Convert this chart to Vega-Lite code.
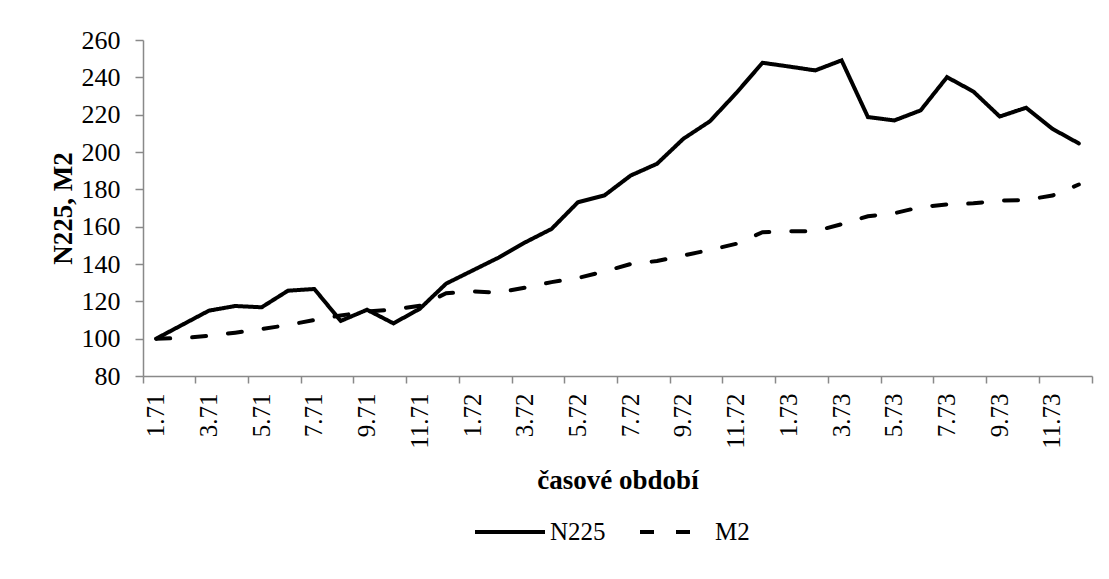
{
  "$schema": "https://vega.github.io/schema/vega-lite/v6.json",
  "width": 949,
  "height": 336,
  "autosize": {"type": "none"},
  "padding": {"left": 143, "top": 40, "right": 17, "bottom": 203},
  "background": "white",
  "config": {
    "view": {"stroke": null},
    "font": "Liberation Serif",
    "axis": {"grid": false, "domainColor": "#898989", "tickColor": "#898989", "labelColor": "#000000", "titleColor": "#000000", "labelFont": "Liberation Serif", "titleFont": "Liberation Serif", "domainWidth": 1.5, "tickWidth": 1.5}
  },
  "data": {"values": [
    {"m": "1.71", "s": "N225", "v": 100},
    {"m": "2.71", "s": "N225", "v": 107.5},
    {"m": "3.71", "s": "N225", "v": 115},
    {"m": "4.71", "s": "N225", "v": 117.5},
    {"m": "5.71", "s": "N225", "v": 116.8},
    {"m": "6.71", "s": "N225", "v": 125.7},
    {"m": "7.71", "s": "N225", "v": 126.6},
    {"m": "8.71", "s": "N225", "v": 109.5},
    {"m": "9.71", "s": "N225", "v": 115.5},
    {"m": "10.71", "s": "N225", "v": 108.2},
    {"m": "11.71", "s": "N225", "v": 116},
    {"m": "12.71", "s": "N225", "v": 129.5},
    {"m": "1.72", "s": "N225", "v": 136.5},
    {"m": "2.72", "s": "N225", "v": 143.5},
    {"m": "3.72", "s": "N225", "v": 151.6},
    {"m": "4.72", "s": "N225", "v": 158.8},
    {"m": "5.72", "s": "N225", "v": 173.1},
    {"m": "6.72", "s": "N225", "v": 176.7},
    {"m": "7.72", "s": "N225", "v": 187.4},
    {"m": "8.72", "s": "N225", "v": 193.7},
    {"m": "9.72", "s": "N225", "v": 207.1},
    {"m": "10.72", "s": "N225", "v": 216.4},
    {"m": "11.72", "s": "N225", "v": 231.5},
    {"m": "12.72", "s": "N225", "v": 247.8},
    {"m": "1.73", "s": "N225", "v": 245.8},
    {"m": "2.73", "s": "N225", "v": 243.7},
    {"m": "3.73", "s": "N225", "v": 249.1},
    {"m": "4.73", "s": "N225", "v": 218.7},
    {"m": "5.73", "s": "N225", "v": 216.9},
    {"m": "6.73", "s": "N225", "v": 222.3},
    {"m": "7.73", "s": "N225", "v": 240.1},
    {"m": "8.73", "s": "N225", "v": 232.4},
    {"m": "9.73", "s": "N225", "v": 219},
    {"m": "10.73", "s": "N225", "v": 223.7},
    {"m": "11.73", "s": "N225", "v": 212.4},
    {"m": "12.73", "s": "N225", "v": 204.6},
    {"m": "1.71", "s": "M2", "v": 100},
    {"m": "2.71", "s": "M2", "v": 100.3},
    {"m": "3.71", "s": "M2", "v": 101.5},
    {"m": "4.71", "s": "M2", "v": 103.2},
    {"m": "5.71", "s": "M2", "v": 105.2},
    {"m": "6.71", "s": "M2", "v": 107.3},
    {"m": "7.71", "s": "M2", "v": 110},
    {"m": "8.71", "s": "M2", "v": 112.4},
    {"m": "9.71", "s": "M2", "v": 114.5},
    {"m": "10.71", "s": "M2", "v": 115.6},
    {"m": "11.71", "s": "M2", "v": 117.6},
    {"m": "12.71", "s": "M2", "v": 124.3},
    {"m": "1.72", "s": "M2", "v": 125.3},
    {"m": "2.72", "s": "M2", "v": 124.7},
    {"m": "3.72", "s": "M2", "v": 127.4},
    {"m": "4.72", "s": "M2", "v": 130.3},
    {"m": "5.72", "s": "M2", "v": 132.5},
    {"m": "6.72", "s": "M2", "v": 136},
    {"m": "7.72", "s": "M2", "v": 140},
    {"m": "8.72", "s": "M2", "v": 141.6},
    {"m": "9.72", "s": "M2", "v": 144.6},
    {"m": "10.72", "s": "M2", "v": 147.5},
    {"m": "11.72", "s": "M2", "v": 150.8},
    {"m": "12.72", "s": "M2", "v": 157},
    {"m": "1.73", "s": "M2", "v": 157.5},
    {"m": "2.73", "s": "M2", "v": 157.6},
    {"m": "3.73", "s": "M2", "v": 161.3},
    {"m": "4.73", "s": "M2", "v": 165.6},
    {"m": "5.73", "s": "M2", "v": 167.2},
    {"m": "6.73", "s": "M2", "v": 170.5},
    {"m": "7.73", "s": "M2", "v": 171.9},
    {"m": "8.73", "s": "M2", "v": 172.5},
    {"m": "9.73", "s": "M2", "v": 174},
    {"m": "10.73", "s": "M2", "v": 174.3},
    {"m": "11.73", "s": "M2", "v": 176.7},
    {"m": "12.73", "s": "M2", "v": 182.6}
  ]},
  "encoding": {
    "y": {
      "field": "v", "type": "quantitative",
      "scale": {"domain": [80, 260], "nice": false, "zero": false},
      "axis": {
        "title": "N225, M2", "titleFontSize": 27, "titleFontWeight": "bold",
        "titleX": -80, "titleY": 168, "titleAngle": 270, "titleAlign": "center", "titleBaseline": "middle",
        "values": [80,100,120,140,160,180,200,220,240,260],
        "labelFontSize": 26, "labelPadding": 15, "tickSize": 8
      }
    }
  },
  "layer": [
    {
      "mark": {"type": "line", "strokeWidth": 4, "strokeCap": "round", "strokeJoin": "miter"},
      "encoding": {
        "x": {
          "field": "m", "type": "ordinal", "sort": null, "bandPosition": 0.5,
          "scale": {"type": "band", "paddingInner": 0, "paddingOuter": 0},
          "axis": {
            "orient": "bottom",
            "title": "časové období", "titleFontSize": 27, "titleFontWeight": "bold",
            "titleY": 112, "titleBaseline": "alphabetic",
            "labelAngle": 270, "labelFontSize": 25, "labelPadding": 10, "tickSize": 7,
            "bandPosition": 0, "labelOffset": 0,
            "values": ["1.71","3.71","5.71","7.71","9.71","11.71","1.72","3.72","5.72","7.72","9.72","11.72","1.73","3.73","5.73","7.73","9.73","11.73"]
          }
        },
        "color": {
          "field": "s", "type": "nominal",
          "scale": {"domain": ["N225", "M2"], "range": ["#000000", "#000000"]},
          "legend": {
            "title": null, "orient": "none", "direction": "horizontal",
            "legendX": 330, "legendY": 455, "padding": 0,
            "symbolType": "stroke", "symbolSize": 4900, "symbolStrokeWidth": 4,
            "labelFontSize": 25, "labelFont": "Liberation Serif", "labelColor": "#000000",
            "labelOffset": 3, "columnPadding": 26
          }
        },
        "strokeDash": {
          "field": "s", "type": "nominal",
          "scale": {"domain": ["N225", "M2"], "range": [[1, 0], [14, 22]]},
          "legend": {
            "title": null, "orient": "none", "direction": "horizontal",
            "legendX": 330, "legendY": 455, "padding": 0,
            "symbolType": "stroke", "symbolSize": 4900, "symbolStrokeWidth": 4,
            "labelFontSize": 25, "labelFont": "Liberation Serif", "labelColor": "#000000",
            "labelOffset": 3, "columnPadding": 26
          }
        }
      }
    },
    {
      "mark": {"type": "line", "opacity": 0},
      "encoding": {
        "x": {
          "field": "m", "type": "ordinal", "sort": null, "bandPosition": 0.5,
          "axis": {
            "orient": "bottom", "title": null, "labels": false, "domain": false,
            "tickSize": 7, "bandPosition": 1, "values": ["12.73"]
          }
        },
        "detail": {"field": "s"}
      }
    }
  ],
  "resolve": {"axis": {"x": "independent"}}
}
